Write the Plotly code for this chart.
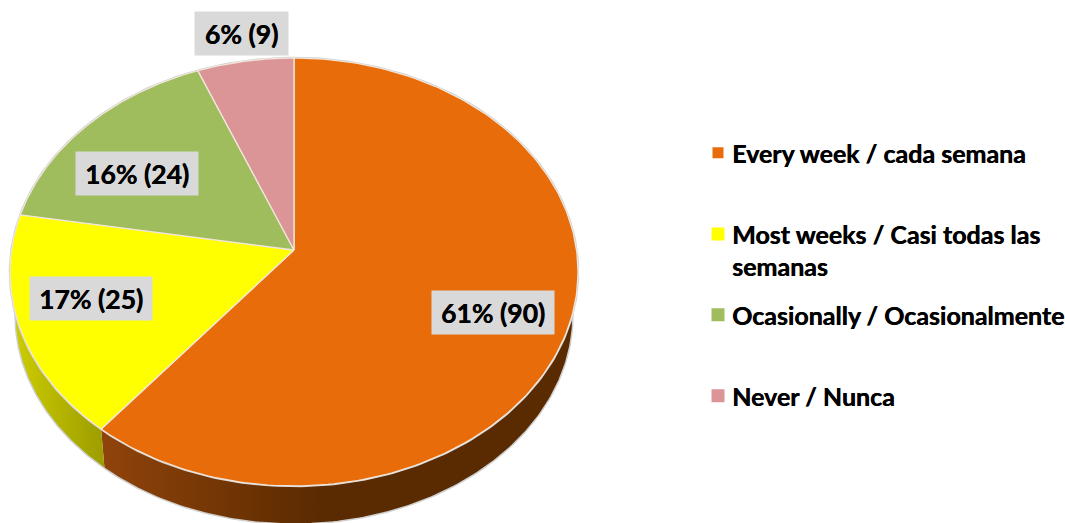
import numpy as np
import plotly.graph_objects as go

categories = ["Every week / cada semana", "Most weeks / Casi todas las<br>semanas",
              "Ocasionally / Ocasionalmente", "Never / Nunca"]
values = [90, 25, 24, 9]
slice_colors = ["#e96c0a", "#ffff00", "#9fbd5d", "#db9597"]
legend_sizes = [11, 13, 13, 13]

W, H = 1065, 523
FONT = "Lato"
HEAVY = "0.45px 0 0 #000000"
# view geometry of the tilted disc
APEX_X, APEX_Y = 294, 250
TOP_R, BOTTOM_R = 192, 236
KP = (BOTTOM_R - TOP_R) / (BOTTOM_R + TOP_R)
B = TOP_R * (1 + KP)
A = 284 * np.sqrt(1 - KP ** 2)
CY = APEX_Y + (BOTTOM_R - TOP_R) / 2
LOW_RX, LOW_RY, LOW_CY = 279 / 284, 209 / 214, 315


def rim(t):
    w = 1 + KP * np.cos(t)
    return APEX_X + A * np.sin(t) / w, APEX_Y - B * np.cos(t) / w


def low(t):
    x, y = rim(t)
    return APEX_X + (x - APEX_X) * LOW_RX, LOW_CY + (y - CY) * LOW_RY


total = sum(values)
edges = np.cumsum([0] + values) / total * 2 * np.pi
fig = go.Figure()


def wall(t0, t1, scale, x0, x1):
    t = np.linspace(t0, t1, 160)
    xa, ya = rim(t)
    xb, yb = low(t)
    fig.add_trace(go.Scatter(
        x=np.r_[xa, xb[::-1]], y=np.r_[ya, yb[::-1]], mode="lines", fill="toself",
        line=dict(color="rgba(0,0,0,0)", width=0),
        fillgradient=dict(type="horizontal", colorscale=scale, start=x0, stop=x1),
        showlegend=False, hoverinfo="skip"))
    fig.add_trace(go.Scatter(x=xb, y=yb, mode="lines", line=dict(color="#cfcfcf", width=1.5),
                             showlegend=False, hoverinfo="skip"))


wall(edges[0] + np.pi / 2, edges[1], [[0, "#5a2a00"], [0.55, "#5a2a00"], [1, "#8f430a"]], 590, 105)
wall(edges[1], edges[2], [[0, "#9c9c00"], [1, "#cccc00"]], 105, 15)

# disc rim halo
t = np.linspace(0, 2 * np.pi, 400)
xr, yr = rim(t)
fig.add_trace(go.Scatter(x=xr, y=yr, mode="lines", line=dict(color="#cfcfcf", width=2.5),
                         showlegend=False, hoverinfo="skip"))

for i, v in enumerate(values):
    t = np.linspace(edges[i], edges[i + 1], 200)
    x, y = rim(t)
    fig.add_trace(go.Scatter(
        x=np.r_[APEX_X, x, APEX_X], y=np.r_[APEX_Y, y, APEX_Y], mode="lines", fill="toself",
        fillcolor=slice_colors[i], line=dict(color="#f0e6dc", width=1.3),
        showlegend=False, hoverinfo="skip"))

# legend entries, each in its own legend box so rows can sit where they do
legend_rows = [130, 211, 292, 373]
layout_legends = {}
for i, name in enumerate(categories):
    key = "legend" if i == 0 else f"legend{i + 1}"
    fig.add_trace(go.Scatter(x=[None], y=[None], mode="markers", name=name, legend=key,
                             marker=dict(symbol="square", size=legend_sizes[i], color=slice_colors[i])))
    layout_legends[key] = dict(
        x=692 / W, y=1 - legend_rows[i] / H, xanchor="left", yanchor="top",
        bgcolor="rgba(0,0,0,0)", itemwidth=30, itemsizing="trace",
        font=dict(family=FONT, size=25, color="#000000", shadow=HEAVY))

# data labels: value share and count
label_centres = [(493, 312), (137, 173), (91, 298), (241, 33)]
order = [0, 2, 1, 3]
for pos, i in zip(label_centres, order):
    pct = round(values[i] / total * 100)
    fig.add_annotation(x=pos[0], y=pos[1], xref="x", yref="y",
                       text=f"<b>{pct}% ({values[i]})</b>", showarrow=False,
                       bgcolor="#d9d9d9", width=120 if values[i] > 9 else 91, height=41,
                       font=dict(family=FONT, size=26.5, color="#000000", shadow=HEAVY),
                       align="center", valign="middle")

fig.update_layout(
    width=W, height=H, margin=dict(l=0, r=0, t=0, b=0, autoexpand=False),
    paper_bgcolor="#ffffff", plot_bgcolor="#ffffff",
    xaxis=dict(range=[0, W], visible=False, fixedrange=True),
    yaxis=dict(range=[H, 0], visible=False, fixedrange=True),
    font=dict(family=FONT, weight=700),
    **layout_legends)

# page margin off; legend swatches moved next to their first text line
post = """
document.body.style.margin = '0';
var moves = [[6, 0], [6, -16], [6, 0], [6, 0]];
document.querySelectorAll('.legendpoints').forEach(function (g, i) {
  g.setAttribute('transform', 'translate(' + moves[i][0] + ',' + moves[i][1] + ')');
});
"""
fig.write_html("out.html", config={"displayModeBar": False}, post_script=post)
